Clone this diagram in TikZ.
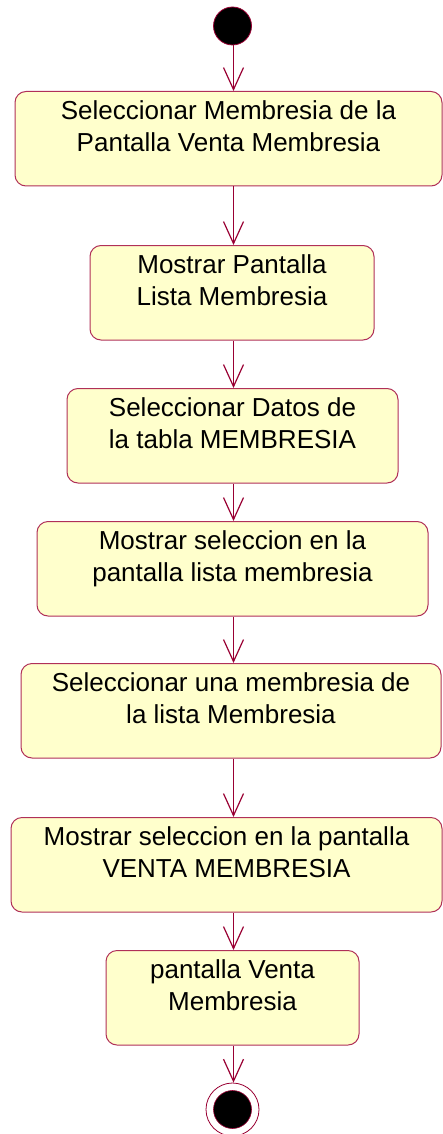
\documentclass[tikz,border=0pt]{standalone}
\usepackage{fontspec}
\setmainfont{Liberation Sans}
\usetikzlibrary{arrows.meta}
\definecolor{uml}{RGB}{153,0,51}
\definecolor{boxline}{RGB}{176,48,88}
\definecolor{boxfill}{RGB}{255,255,204}
\tikzset{
  act/.style={draw=boxline, line width=1pt, fill=boxfill, rounded corners=11pt,
    inner sep=0pt, align=center, anchor=north, text height=60pt, text depth=34.5pt,
    font=\fontsize{26}{32}\selectfont},
  conn/.style={draw=uml, line width=1.2pt, -{Straight Barb[length=22pt,width=20pt,line width=1.2pt]}},
  startst/.style={circle, draw=uml, line width=0.8pt, fill=black, minimum size=38pt, inner sep=0pt},
  endring/.style={circle, draw=uml, line width=0.8pt, fill=white, minimum size=53pt, inner sep=0pt},
  enddot/.style={circle, draw=uml, line width=0.6pt, fill=black, minimum size=38pt, inner sep=0pt}
}
\begin{document}
\begin{tikzpicture}[x=1pt,y=-1pt]
\useasboundingbox (0,0) rectangle (443,1134);
\coordinate (ax) at (233.5,0);
\node[startst] (start) at (232.5,26) {};
\node[act, minimum width=427pt] (b1) at (228.5,91) {Seleccionar Membresia de la\\ Pantalla Venta Membresia};
\node[act, minimum width=284pt] (b2) at (232,245) {Mostrar Pantalla\\ Lista Membresia};
\node[act, minimum width=331pt] (b3) at (232.5,388) {Seleccionar Datos de\\ la tabla MEMBRESIA};
\node[act, minimum width=391pt] (b4) at (232.5,521) {Mostrar seleccion en la\\ pantalla lista membresia};
\node[act, minimum width=420pt] (b5) at (231,663) {Seleccionar una membresia de\\ la lista Membresia};
\node[act, minimum width=431pt] (b6) at (226.5,817) {Mostrar seleccion en la pantalla\\ VENTA MEMBRESIA};
\node[act, minimum width=253pt] (b7) at (232.5,950) {pantalla Venta\\ Membresia};
\node[endring] (endo) at (232.5,1109.5) {};
\node[enddot] (endi) at (232.5,1109.5) {};
\draw[conn] (start.south -| ax) -- (b1.north -| ax);
\draw[conn] (b1.south -| ax) -- (b2.north -| ax);
\draw[conn] (b2.south -| ax) -- (b3.north -| ax);
\draw[conn] (b3.south -| ax) -- (b4.north -| ax);
\draw[conn] (b4.south -| ax) -- (b5.north -| ax);
\draw[conn] (b5.south -| ax) -- (b6.north -| ax);
\draw[conn] (b6.south -| ax) -- (b7.north -| ax);
\draw[conn] (b7.south -| ax) -- (endo.north -| ax);
\end{tikzpicture}
\end{document}
